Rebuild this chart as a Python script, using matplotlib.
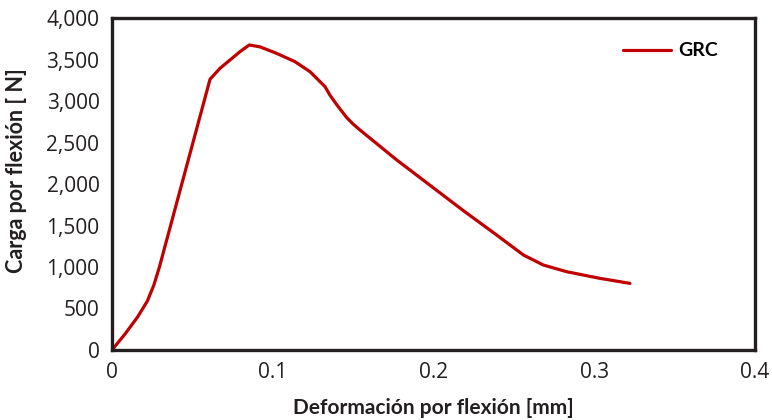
import matplotlib
matplotlib.use("Agg")
import matplotlib.pyplot as plt
from matplotlib.ticker import FuncFormatter

deformacion = [0.0, 0.008, 0.016, 0.022, 0.026, 0.0295, 0.0455,
               0.061, 0.0672, 0.0734, 0.0800, 0.0854, 0.0921, 0.1024, 0.1138, 0.1232,
               0.1325, 0.1356, 0.1400, 0.146, 0.1501, 0.1543, 0.1771, 0.1978, 0.2185,
               0.2393, 0.2559, 0.2683, 0.2829, 0.3036, 0.3222]
carga = [0, 190, 400, 590, 780, 1000, 2150,
         3263, 3394, 3494, 3600, 3675, 3652, 3574, 3474, 3353,
         3173, 3070, 2950, 2800, 2720, 2650, 2290, 1985, 1680,
         1385, 1145, 1024, 943, 863, 803]
series_label = "GRC"
x_ticks = [0, 0.1, 0.2, 0.3, 0.4]
x_tick_labels = ["0", "0.1", "0.2", "0.3", "0.4"]
y_ticks = [0, 500, 1000, 1500, 2000, 2500, 3000, 3500, 4000]

plt.rcParams['font.family'] = ['Open Sans', 'DejaVu Sans']
W, H = 772, 420
fig = plt.figure(figsize=(W/100, H/100), dpi=100)
ax = fig.add_axes([112/W, 1-350/H, (755-112)/W, (350-18)/H])

ax.plot(deformacion, carga, color="#c00000", lw=2.3, label=series_label,
        solid_joinstyle="round", solid_capstyle="round")
ax.set_xlim(0, 0.4)
ax.set_ylim(0, 4000)
ax.set_xticks(x_ticks)
ax.set_xticklabels(x_tick_labels)
ax.set_yticks(y_ticks)
ax.yaxis.set_major_formatter(FuncFormatter(lambda v, p: f"{int(v):,}"))
ax.tick_params(length=0, labelsize=15, colors="#231f20", pad=9)
ax.tick_params(axis="x", pad=9)
for s in ax.spines.values():
    s.set_linewidth(2.4)
    s.set_color("#231f20")
bold = ['Lato', 'DejaVu Sans']
ax.set_xlabel("Deformación por flexión [mm]", fontsize=15, fontweight="bold",
              family=bold, color="#231f20")
ax.set_ylabel("Carga por flexión [ N]", fontsize=15.5, fontweight="bold",
              family=bold, color="#231f20")
ax.xaxis.label.set_va("center")
ax.yaxis.label.set_va("center")
ax.xaxis.set_label_coords((433-112)/643, (350-408)/332)
ax.yaxis.set_label_coords((17-112)/643, (350-171)/332)

leg = fig.legend(loc="center left", frameon=False, handlelength=2.45, handletextpad=0.4,
                 borderpad=0, borderaxespad=0,
                 prop={"weight": "bold", "size": 14, "family": bold},
                 bbox_to_anchor=(623/W, 1-51/H), bbox_transform=fig.transFigure)
fig.savefig("out.png", dpi=100)
